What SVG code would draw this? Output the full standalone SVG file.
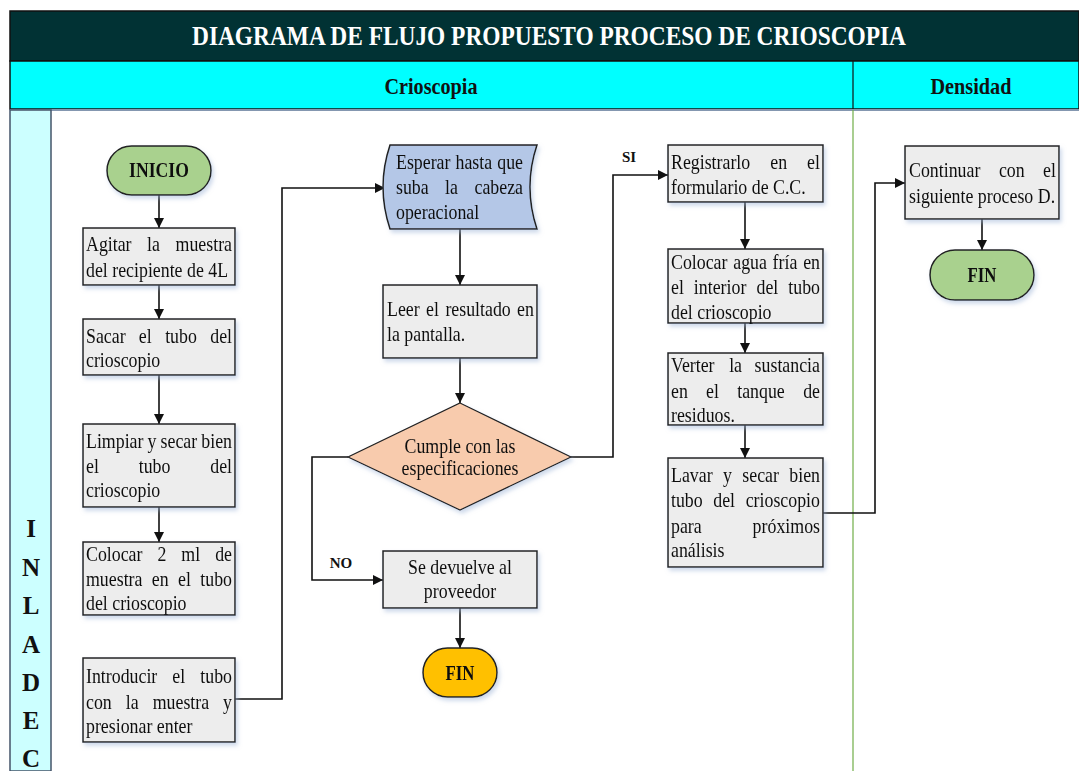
<svg xmlns="http://www.w3.org/2000/svg" width="1079" height="771" viewBox="0 0 1079 771">
  <style>
    .t { font-family: "Liberation Serif", "Times New Roman", serif; font-size: 21px; fill: #111; }
    .c { text-anchor: middle; }
    .e { text-anchor: end; }
    .b { font-weight: bold; }
    .box { fill: #EDEDED; stroke: #222; stroke-width: 1.5; }
    .line { fill: none; stroke: #111; stroke-width: 1.6; }
    .lane { font-family: "Liberation Serif", "Times New Roman", serif; font-size: 25px; font-weight: bold; fill: #111; text-anchor: middle; }
    .lbl { font-family: "Liberation Serif", "Times New Roman", serif; font-size: 15px; font-weight: bold; fill: #111; text-anchor: middle; }
  </style>
  <defs>
    <marker id="arrow" viewBox="0 0 10 10" refX="10" refY="5" markerWidth="10" markerHeight="10" markerUnits="userSpaceOnUse" orient="auto">
      <path d="M0,0 L10,5 L0,10 Z" fill="#111"/>
    </marker>
    <filter id="shadow" x="-10%" y="-10%" width="130%" height="140%">
      <feDropShadow dx="2" dy="3" stdDeviation="2" flood-color="#9DB3D6" flood-opacity="0.5"/>
    </filter>
  </defs>

  <rect x="0" y="0" width="1079" height="771" fill="#ffffff"/>

  <!-- Title band -->
  <g id="title">
    <rect x="10" y="11" width="1069" height="50" fill="#013234" stroke="#111" stroke-width="1.5"/>
    <text x="549" y="45" class="t b c" style="font-size:27px; fill:#ffffff" textLength="714" lengthAdjust="spacingAndGlyphs">DIAGRAMA DE FLUJO PROPUESTO PROCESO DE CRIOSCOPIA</text>
  </g>

  <!-- Lane headers -->
  <g id="lane-headers">
    <rect x="10" y="61" width="1069" height="48" fill="#00FFFF" stroke="#111" stroke-width="1.5"/>
    <line x1="853" y1="61" x2="853" y2="109" stroke="#111" stroke-width="1.2"/>
    <text x="431" y="94" class="t b c" style="font-size:23px" textLength="93" lengthAdjust="spacingAndGlyphs">Crioscopia</text>
    <text x="971" y="94" class="t b c" style="font-size:23px" textLength="81" lengthAdjust="spacingAndGlyphs">Densidad</text>
  </g>

  <!-- Side lane and lane divider -->
  <g id="side-lane">
    <line x1="10" y1="110" x2="1079" y2="110" stroke="#8497B0" stroke-width="2"/>
    <rect x="10" y="110" width="41" height="661" fill="#CCFFFF" stroke="#44546A" stroke-width="1.5"/>
    <line x1="853" y1="110" x2="853" y2="771" stroke="#70AD47" stroke-width="1.2"/>
    <text x="31" y="537" class="lane">I</text>
    <text x="31" y="576" class="lane">N</text>
    <text x="31" y="614" class="lane">L</text>
    <text x="31" y="653" class="lane">A</text>
    <text x="31" y="691" class="lane">D</text>
    <text x="31" y="729" class="lane">E</text>
    <text x="31" y="767" class="lane">C</text>
  </g>

  <!-- Connectors -->
  <g id="connectors" class="line">
    <path d="M159,195 V228" marker-end="url(#arrow)"/>
    <path d="M159,285 V319" marker-end="url(#arrow)"/>
    <path d="M159,375 V424" marker-end="url(#arrow)"/>
    <path d="M159,507 V542" marker-end="url(#arrow)"/>
    <path d="M235,699 H282 V188 H385" marker-end="url(#arrow)"/>
    <path d="M460,229 V285" marker-end="url(#arrow)"/>
    <path d="M460,358 V403" marker-end="url(#arrow)"/>
    <path d="M348,457 H312 V580 H383" marker-end="url(#arrow)"/>
    <path d="M460,608 V648" marker-end="url(#arrow)"/>
    <path d="M571,457 H613 V175 H668" marker-end="url(#arrow)"/>
    <path d="M745,202 V249" marker-end="url(#arrow)"/>
    <path d="M745,323 V353" marker-end="url(#arrow)"/>
    <path d="M745,425 V458" marker-end="url(#arrow)"/>
    <path d="M823,513 H875 V183 H905" marker-end="url(#arrow)"/>
    <path d="M982,219 V250" marker-end="url(#arrow)"/>
  </g>

  <!-- Branch labels -->
  <g id="branch-labels">
    <text x="341" y="568" class="lbl">NO</text>
    <text x="629" y="162" class="lbl">SI</text>
  </g>

  <!-- Nodes: text is set in a narrow (horizontally condensed) serif; justified lines word by word -->
  <g id="inicio" filter="url(#shadow)">
    <rect x="107" y="146" width="104" height="49" rx="24.5" fill="#A9D18E" stroke="#222" stroke-width="1.5"/>
    <g transform="translate(159 0) scale(0.84 1)">
      <text x="0" y="177" class="t b c">INICIO</text>
    </g>
  </g>

  <g id="agitar" filter="url(#shadow)">
    <rect x="83" y="228" width="152" height="57" class="box"/>
    <g transform="translate(86 0) scale(0.85 1)">
      <text x="0" y="251" class="t">Agitar</text>
      <text x="71.9" y="251" class="t">la</text>
      <text x="171.8" y="251" class="t e">muestra</text>
      <text x="0" y="277" class="t">del recipiente de 4L</text>
    </g>
  </g>

  <g id="sacar" filter="url(#shadow)">
    <rect x="83" y="319" width="152" height="56" class="box"/>
    <g transform="translate(86 0) scale(0.85 1)">
      <text x="0" y="343" class="t">Sacar</text>
      <text x="62.2" y="343" class="t">el</text>
      <text x="93.1" y="343" class="t">tubo</text>
      <text x="171.8" y="343" class="t e">del</text>
      <text x="0" y="367" class="t">crioscopio</text>
    </g>
  </g>

  <g id="limpiar" filter="url(#shadow)">
    <rect x="83" y="424" width="152" height="83" class="box"/>
    <g transform="translate(86 0) scale(0.85 1)">
      <text x="0" y="448" class="t">Limpiar</text>
      <text x="72.4" y="448" class="t">y</text>
      <text x="87.7" y="448" class="t">secar</text>
      <text x="171.8" y="448" class="t e">bien</text>
      <text x="0" y="473" class="t">el</text>
      <text x="62" y="473" class="t">tubo</text>
      <text x="171.8" y="473" class="t e">del</text>
      <text x="0" y="497" class="t">crioscopio</text>
    </g>
  </g>

  <g id="colocar-muestra" filter="url(#shadow)">
    <rect x="83" y="542" width="152" height="73" class="box"/>
    <g transform="translate(86 0) scale(0.85 1)">
      <text x="0" y="561" class="t">Colocar</text>
      <text x="84.1" y="561" class="t">2</text>
      <text x="112.2" y="561" class="t">ml</text>
      <text x="171.8" y="561" class="t e">de</text>
      <text x="0" y="586" class="t">muestra</text>
      <text x="77.4" y="586" class="t">en</text>
      <text x="108.2" y="586" class="t">el</text>
      <text x="171.8" y="586" class="t e">tubo</text>
      <text x="0" y="610" class="t">del crioscopio</text>
    </g>
  </g>

  <g id="introducir" filter="url(#shadow)">
    <rect x="83" y="658" width="152" height="84" class="box"/>
    <g transform="translate(86 0) scale(0.85 1)">
      <text x="0" y="683" class="t">Introducir</text>
      <text x="101.6" y="683" class="t">el</text>
      <text x="171.8" y="683" class="t e">tubo</text>
      <text x="0" y="709" class="t">con</text>
      <text x="46.8" y="709" class="t">la</text>
      <text x="78.5" y="709" class="t">muestra</text>
      <text x="171.8" y="709" class="t e">y</text>
      <text x="0" y="733" class="t">presionar enter</text>
    </g>
  </g>

  <g id="esperar" filter="url(#shadow)">
    <path d="M390,145 H537 Q523,187 537,229 H390 Q376,187 390,145 Z" fill="#B4C7E7" stroke="#222" stroke-width="1.5"/>
    <g transform="translate(396 0) scale(0.85 1)">
      <text x="0" y="169" class="t">Esperar</text>
      <text x="70" y="169" class="t">hasta</text>
      <text x="149.4" y="169" class="t e">que</text>
      <text x="0" y="194" class="t">suba</text>
      <text x="57.8" y="194" class="t">la</text>
      <text x="149.4" y="194" class="t e">cabeza</text>
      <text x="0" y="219" class="t">operacional</text>
    </g>
  </g>

  <g id="leer" filter="url(#shadow)">
    <rect x="383" y="285" width="154" height="73" class="box"/>
    <g transform="translate(387 0) scale(0.85 1)">
      <text x="0" y="316" class="t">Leer</text>
      <text x="46" y="316" class="t">el</text>
      <text x="68.7" y="316" class="t">resultado</text>
      <text x="172.9" y="316" class="t e">en</text>
      <text x="0" y="341" class="t">la pantalla.</text>
    </g>
  </g>

  <g id="cumple" filter="url(#shadow)">
    <path d="M460,403 L571,457 L460,510 L348,457 Z" fill="#F8CBAD" stroke="#222" stroke-width="1.2"/>
    <g transform="translate(460 0) scale(0.85 1)">
      <text x="0" y="453" class="t c">Cumple con las</text>
      <text x="0" y="475" class="t c">especificaciones</text>
    </g>
  </g>

  <g id="devuelve" filter="url(#shadow)">
    <rect x="383" y="551" width="154" height="57" class="box"/>
    <g transform="translate(460 0) scale(0.85 1)">
      <text x="0" y="574" class="t c">Se devuelve al</text>
      <text x="0" y="598" class="t c">proveedor</text>
    </g>
  </g>

  <g id="fin-rechazo" filter="url(#shadow)">
    <rect x="423" y="648" width="74" height="49" rx="24.5" fill="#FFC000" stroke="#222" stroke-width="1.5"/>
    <g transform="translate(460 0) scale(0.8 1)">
      <text x="0" y="680" class="t b c">FIN</text>
    </g>
  </g>

  <g id="registrar" filter="url(#shadow)">
    <rect x="668" y="145" width="155" height="57" class="box"/>
    <g transform="translate(671 0) scale(0.85 1)">
      <text x="0" y="169" class="t">Registrarlo</text>
      <text x="116.8" y="169" class="t">en</text>
      <text x="175.3" y="169" class="t e">el</text>
      <text x="0" y="194" class="t">formulario de C.C.</text>
    </g>
  </g>

  <g id="colocar-agua" filter="url(#shadow)">
    <rect x="668" y="249" width="155" height="74" class="box"/>
    <g transform="translate(671 0) scale(0.85 1)">
      <text x="0" y="269" class="t">Colocar</text>
      <text x="73.2" y="269" class="t">agua</text>
      <text x="119.5" y="269" class="t">fría</text>
      <text x="175.3" y="269" class="t e">en</text>
      <text x="0" y="294" class="t">el</text>
      <text x="26.9" y="294" class="t">interior</text>
      <text x="100.6" y="294" class="t">del</text>
      <text x="175.3" y="294" class="t e">tubo</text>
      <text x="0" y="319" class="t">del crioscopio</text>
    </g>
  </g>

  <g id="verter" filter="url(#shadow)">
    <rect x="668" y="353" width="155" height="72" class="box"/>
    <g transform="translate(671 0) scale(0.85 1)">
      <text x="0" y="372" class="t">Verter</text>
      <text x="68.4" y="372" class="t">la</text>
      <text x="175.3" y="372" class="t e">sustancia</text>
      <text x="0" y="398" class="t">en</text>
      <text x="41.3" y="398" class="t">el</text>
      <text x="77.9" y="398" class="t">tanque</text>
      <text x="175.3" y="398" class="t e">de</text>
      <text x="0" y="422" class="t">residuos.</text>
    </g>
  </g>

  <g id="lavar" filter="url(#shadow)">
    <rect x="668" y="458" width="155" height="109" class="box"/>
    <g transform="translate(671 0) scale(0.85 1)">
      <text x="0" y="482" class="t">Lavar</text>
      <text x="61.2" y="482" class="t">y</text>
      <text x="83.9" y="482" class="t">secar</text>
      <text x="175.3" y="482" class="t e">bien</text>
      <text x="0" y="507" class="t">tubo</text>
      <text x="49.7" y="507" class="t">del</text>
      <text x="175.3" y="507" class="t e">crioscopio</text>
      <text x="0" y="533" class="t">para</text>
      <text x="175.3" y="533" class="t e">próximos</text>
      <text x="0" y="557" class="t">análisis</text>
    </g>
  </g>

  <g id="continuar" filter="url(#shadow)">
    <rect x="905" y="146" width="154" height="73" class="box"/>
    <g transform="translate(909 0) scale(0.85 1)">
      <text x="0" y="177" class="t">Continuar</text>
      <text x="105.8" y="177" class="t">con</text>
      <text x="172.9" y="177" class="t e">el</text>
      <text x="0" y="203" class="t">siguiente proceso D.</text>
    </g>
  </g>

  <g id="fin-densidad" filter="url(#shadow)">
    <rect x="930" y="250" width="104" height="50" rx="25" fill="#A9D18E" stroke="#222" stroke-width="1.5"/>
    <g transform="translate(982 0) scale(0.8 1)">
      <text x="0" y="282" class="t b c">FIN</text>
    </g>
  </g>
</svg>
